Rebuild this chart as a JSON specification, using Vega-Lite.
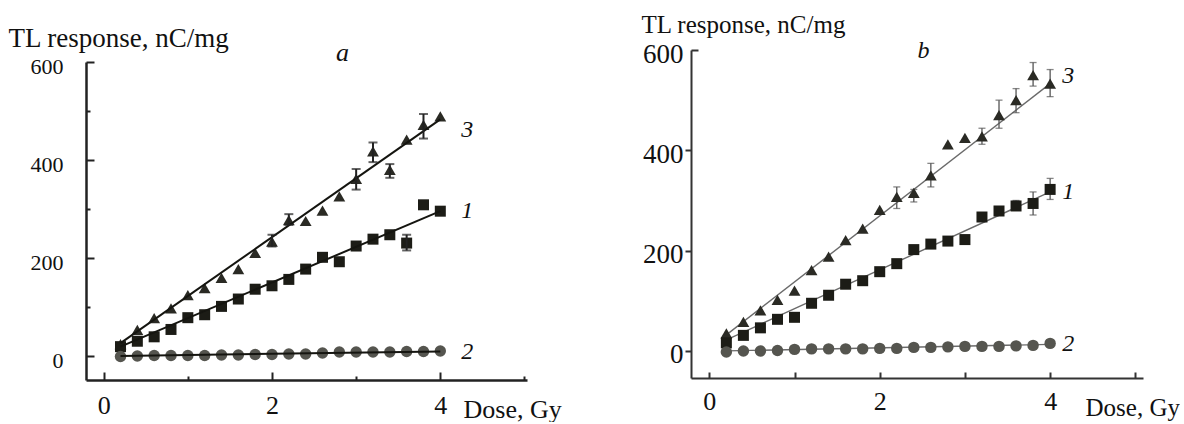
{
  "$schema": "https://vega.github.io/schema/vega-lite/v6.json",
  "background": "white",
  "padding": {"left": 8, "top": 12, "right": 0, "bottom": 0},
  "bounds": "flush",
  "spacing": 164,
  "config": {"view": {"stroke": null}, "axis": {"grid": false}},
  "datasets": {
    "pa": [
      {"s":"3","x":0.2,"y":25},{"s":"3","x":0.4,"y":54},{"s":"3","x":0.6,"y":78},{"s":"3","x":0.8,"y":98},{"s":"3","x":1.0,"y":125},
      {"s":"3","x":1.2,"y":139},{"s":"3","x":1.4,"y":160},{"s":"3","x":1.6,"y":178},{"s":"3","x":1.8,"y":211},{"s":"3","x":2.0,"y":234},
      {"s":"3","x":2.2,"y":278},{"s":"3","x":2.4,"y":276},{"s":"3","x":2.6,"y":297},{"s":"3","x":2.8,"y":326},{"s":"3","x":3.0,"y":362},
      {"s":"3","x":3.2,"y":418},{"s":"3","x":3.4,"y":380},{"s":"3","x":3.6,"y":442},{"s":"3","x":3.8,"y":472},{"s":"3","x":4.0,"y":489},
      {"s":"1","x":0.2,"y":20},{"s":"1","x":0.4,"y":31},{"s":"1","x":0.6,"y":40},{"s":"1","x":0.8,"y":55},{"s":"1","x":1.0,"y":79},
      {"s":"1","x":1.2,"y":85},{"s":"1","x":1.4,"y":102},{"s":"1","x":1.6,"y":117},{"s":"1","x":1.8,"y":137},{"s":"1","x":2.0,"y":144},
      {"s":"1","x":2.2,"y":157},{"s":"1","x":2.4,"y":178},{"s":"1","x":2.6,"y":202},{"s":"1","x":2.8,"y":193},{"s":"1","x":3.0,"y":225},
      {"s":"1","x":3.2,"y":239},{"s":"1","x":3.4,"y":248},{"s":"1","x":3.6,"y":231},{"s":"1","x":3.8,"y":309},{"s":"1","x":4.0,"y":296},
      {"s":"2","x":0.2,"y":0},{"s":"2","x":0.4,"y":1},{"s":"2","x":0.6,"y":2},{"s":"2","x":0.8,"y":2},{"s":"2","x":1.0,"y":2},
      {"s":"2","x":1.2,"y":2},{"s":"2","x":1.4,"y":3},{"s":"2","x":1.6,"y":3},{"s":"2","x":1.8,"y":4},{"s":"2","x":2.0,"y":4},
      {"s":"2","x":2.2,"y":5},{"s":"2","x":2.4,"y":5},{"s":"2","x":2.6,"y":7},{"s":"2","x":2.8,"y":9},{"s":"2","x":3.0,"y":9},
      {"s":"2","x":3.2,"y":9},{"s":"2","x":3.4,"y":9},{"s":"2","x":3.6,"y":10},{"s":"2","x":3.8,"y":10},{"s":"2","x":4.0,"y":11}
    ],
    "la": [
      {"s":"3","x":0.2,"y":27},{"s":"3","x":4.0,"y":483},
      {"s":"1","x":0.2,"y":20},{"s":"1","x":4.0,"y":296},
      {"s":"2","x":0.2,"y":1},{"s":"2","x":4.0,"y":10}
    ],
    "ea": [
      {"s":"3","x":2.0,"lo":224,"hi":248},
      {"s":"3","x":2.2,"lo":268,"hi":290},
      {"s":"3","x":3.0,"lo":340,"hi":382},
      {"s":"3","x":3.2,"lo":396,"hi":436},
      {"s":"3","x":3.4,"lo":364,"hi":392},
      {"s":"3","x":3.8,"lo":444,"hi":494},
      {"s":"1","x":3.6,"lo":216,"hi":248}
    ],
    "pb": [
      {"s":"3","x":0.2,"y":35},{"s":"3","x":0.4,"y":58},{"s":"3","x":0.6,"y":81},{"s":"3","x":0.8,"y":102},{"s":"3","x":1.0,"y":120},
      {"s":"3","x":1.2,"y":161},{"s":"3","x":1.4,"y":188},{"s":"3","x":1.6,"y":221},{"s":"3","x":1.8,"y":244},{"s":"3","x":2.0,"y":281},
      {"s":"3","x":2.2,"y":307},{"s":"3","x":2.4,"y":315},{"s":"3","x":2.6,"y":350},{"s":"3","x":2.8,"y":412},{"s":"3","x":3.0,"y":425},
      {"s":"3","x":3.2,"y":428},{"s":"3","x":3.4,"y":470},{"s":"3","x":3.6,"y":500},{"s":"3","x":3.8,"y":550},{"s":"3","x":4.0,"y":533},
      {"s":"1","x":0.2,"y":16},{"s":"1","x":0.4,"y":31},{"s":"1","x":0.6,"y":46},{"s":"1","x":0.8,"y":63},{"s":"1","x":1.0,"y":67},
      {"s":"1","x":1.2,"y":95},{"s":"1","x":1.4,"y":111},{"s":"1","x":1.6,"y":133},{"s":"1","x":1.8,"y":140},{"s":"1","x":2.0,"y":158},
      {"s":"1","x":2.2,"y":174},{"s":"1","x":2.4,"y":202},{"s":"1","x":2.6,"y":213},{"s":"1","x":2.8,"y":219},{"s":"1","x":3.0,"y":222},
      {"s":"1","x":3.2,"y":267},{"s":"1","x":3.4,"y":279},{"s":"1","x":3.6,"y":289},{"s":"1","x":3.8,"y":294},{"s":"1","x":4.0,"y":322},
      {"s":"2","x":0.2,"y":-2},{"s":"2","x":0.4,"y":0},{"s":"2","x":0.6,"y":0},{"s":"2","x":0.8,"y":1},{"s":"2","x":1.0,"y":3},
      {"s":"2","x":1.2,"y":4},{"s":"2","x":1.4,"y":4},{"s":"2","x":1.6,"y":4},{"s":"2","x":1.8,"y":4},{"s":"2","x":2.0,"y":5},
      {"s":"2","x":2.2,"y":5},{"s":"2","x":2.4,"y":7},{"s":"2","x":2.6,"y":7},{"s":"2","x":2.8,"y":8},{"s":"2","x":3.0,"y":9},
      {"s":"2","x":3.2,"y":9},{"s":"2","x":3.4,"y":9},{"s":"2","x":3.6,"y":10},{"s":"2","x":3.8,"y":11},{"s":"2","x":4.0,"y":15}
    ],
    "lb": [
      {"s":"3","x":0.2,"y":32},{"s":"3","x":4.0,"y":533},
      {"s":"1","x":0.2,"y":22},{"s":"1","x":4.0,"y":317},
      {"s":"2","x":0.2,"y":0},{"s":"2","x":4.0,"y":13}
    ],
    "eb": [
      {"s":"3","x":2.2,"lo":284,"hi":327},
      {"s":"3","x":2.4,"lo":297,"hi":322},
      {"s":"3","x":2.6,"lo":327,"hi":374},
      {"s":"3","x":3.2,"lo":412,"hi":444},
      {"s":"3","x":3.4,"lo":444,"hi":500},
      {"s":"3","x":3.6,"lo":475,"hi":523},
      {"s":"3","x":3.8,"lo":528,"hi":575},
      {"s":"3","x":4.0,"lo":507,"hi":561},
      {"s":"1","x":2.0,"lo":152,"hi":166},
      {"s":"1","x":2.8,"lo":214,"hi":226},
      {"s":"1","x":3.6,"lo":281,"hi":300},
      {"s":"1","x":3.8,"lo":271,"hi":317},
      {"s":"1","x":4.0,"lo":302,"hi":344}
    ]
  },
  "hconcat": [
    {
      "width": 441,
      "height": 330,
      "resolve": {"axis": {"x": "independent"}},
      "layer": [
        {
          "encoding": {
            "x": {"field": "x", "type": "quantitative",
              "scale": {"domain": [-0.21, 5.03], "nice": false, "zero": false},
              "axis": {"orient": "bottom", "title": "Dose, Gy", "values": [0,1,2,3,4,5],
                "labelExpr": "datum.value % 2 === 0 && datum.value < 5 ? datum.label : ''",
                "tickSize": {"condition": {"test": "datum.value % 2 === 0 && datum.value < 5", "value": -8}, "value": -4},
                "tickWidth": 2, "tickColor": "#222", "domainColor": "#222", "domainWidth": 2.5,
                "labelPadding": 20, "labelFont": "Liberation Serif", "labelFontSize": 26, "labelColor": "#111",
                "labelFlush": false, "labelOverlap": false,
                "titleFont": "Liberation Serif", "titleFontSize": 26, "titleFontWeight": "normal", "titleColor": "#111",
                "titleX": 377, "titleY": 37, "titleAlign": "left", "titleBaseline": "alphabetic"}},
            "y": {"field": "y", "type": "quantitative",
              "scale": {"domain": [-48, 600], "range": [330, 12], "nice": false, "zero": false},
              "axis": {"title": "TL response, nC/mg", "values": [0,100,200,300,400,500,600],
                "labelExpr": "datum.value % 200 === 0 ? datum.label : ''",
                "tickSize": {"condition": {"test": "datum.value % 200 === 0", "value": -8}, "value": -4},
                "tickWidth": 2, "tickColor": "#222", "domainColor": "#222", "domainWidth": 2.5,
                "labelPadding": 31, "labelFont": "Liberation Serif", "labelFontSize": 22, "labelColor": "#111", "labelOffset": 4,
                "labelFlush": false, "labelOverlap": false,
                "titleFont": "Liberation Serif", "titleFontSize": 27, "titleFontWeight": "normal", "titleColor": "#111",
                "titleAngle": 0, "titleX": -78, "titleY": -4, "titleAlign": "left", "titleBaseline": "alphabetic"}}
          },
          "layer": [
            {"data": {"name": "pa"},
             "mark": {"type": "point", "filled": true, "opacity": 1, "strokeWidth": 0},
             "encoding": {
               "shape": {"field": "s", "type": "nominal", "legend": null, "scale": {"domain": ["1","2","3"], "range": ["square","circle","triangle-up"]}},
               "color": {"field": "s", "type": "nominal", "legend": null, "scale": {"domain": ["1","2","3"], "range": ["#1c1c16","#55554f","#2a2a24"]}},
               "size": {"field": "s", "type": "nominal", "legend": null, "scale": {"domain": ["1","2","3"], "range": [121, 140, 150]}}
             }},
            {"data": {"name": "la"},
             "mark": {"type": "line", "color": "#151510", "strokeWidth": 2},
             "encoding": {"detail": {"field": "s", "type": "nominal"}}},
            {"data": {"name": "ea"},
             "mark": {"type": "errorbar", "ticks": true, "color": "#222", "thickness": 2, "size": 9},
             "encoding": {"y": {"field": "lo", "type": "quantitative"}, "y2": {"field": "hi"}}},
            {"data": {"name": "la"},
             "transform": [{"filter": "datum.x === 4 && datum.s === '3'"}],
             "mark": {"type": "text", "dx": 27, "dy": 11, "align": "center", "baseline": "middle", "font": "Liberation Serif", "fontStyle": "italic", "fontSize": 24, "color": "#111"},
             "encoding": {"text": {"field": "s", "type": "nominal"}}}
          ]
        },
        {"data": {"name": "la"},
         "transform": [{"filter": "datum.x === 4 && datum.s !== '3'"}],
         "mark": {"type": "text", "dx": 27, "align": "center", "baseline": "middle", "font": "Liberation Serif", "fontStyle": "italic", "fontSize": 24, "color": "#111"},
         "encoding": {
           "x": {"field": "x", "type": "quantitative",
             "axis": {"orient": "top", "title": "a", "domain": false, "ticks": false, "labels": false,
               "titleFont": "Liberation Serif", "titleFontStyle": "italic", "titleFontSize": 26, "titleFontWeight": "normal", "titleColor": "#111",
               "titleX": 256, "titleY": 10, "titleAlign": "center", "titleBaseline": "alphabetic"}},
           "y": {"field": "y", "type": "quantitative"},
           "text": {"field": "s", "type": "nominal"}}}
      ]
    },
    {
      "width": 452,
      "height": 328,
      "resolve": {"axis": {"x": "independent"}},
      "layer": [
        {
          "encoding": {
            "x": {"field": "x", "type": "quantitative",
              "scale": {"domain": [-0.215, 5.09], "nice": false, "zero": false},
              "axis": {"orient": "bottom", "title": "Dose, Gy", "values": [0,1,2,3,4,5],
                "labelExpr": "datum.value % 2 === 0 && datum.value < 5 ? datum.label : ''",
                "tickSize": -6,
                "tickWidth": 2, "tickColor": "#333", "domainColor": "#333", "domainWidth": 2,
                "labelPadding": 16, "labelFont": "Liberation Serif", "labelFontSize": 26, "labelColor": "#111",
                "labelFlush": false, "labelOverlap": false,
                "titleFont": "Liberation Serif", "titleFontSize": 25, "titleFontWeight": "normal", "titleColor": "#111",
                "titleX": 394, "titleY": 37, "titleAlign": "left", "titleBaseline": "alphabetic"}},
            "y": {"field": "y", "type": "quantitative",
              "scale": {"domain": [-54, 600], "nice": false, "zero": false},
              "axis": {"title": "TL response, nC/mg", "values": [0,200,400,600],
                "tickSize": {"condition": {"test": "datum.value === 600", "value": -7}, "value": 6},
                "labelPadding": {"condition": {"test": "datum.value === 600", "value": 15}, "value": 2},
                "tickWidth": 2, "tickColor": "#333", "domainColor": "#333", "domainWidth": 2,
                "labelFont": "Liberation Serif", "labelFontSize": 27, "labelColor": "#111", "labelOffset": 4,
                "labelFlush": false, "labelOverlap": false,
                "titleFont": "Liberation Serif", "titleFontSize": 25, "titleFontWeight": "normal", "titleColor": "#111",
                "titleAngle": 0, "titleX": -50, "titleY": -18, "titleAlign": "left", "titleBaseline": "alphabetic"}}
          },
          "layer": [
            {"data": {"name": "lb"},
             "mark": {"type": "line", "color": "#6a6a6a", "strokeWidth": 1.4},
             "encoding": {"detail": {"field": "s", "type": "nominal"}}},
            {"data": {"name": "eb"},
             "mark": {"type": "errorbar", "ticks": true, "color": "#555", "thickness": 1.3, "size": 7},
             "encoding": {"y": {"field": "lo", "type": "quantitative"}, "y2": {"field": "hi"}}},
            {"data": {"name": "pb"},
             "mark": {"type": "point", "filled": true, "opacity": 1, "strokeWidth": 0},
             "encoding": {
               "shape": {"field": "s", "type": "nominal", "legend": null, "scale": {"domain": ["1","2","3"], "range": ["square","circle","triangle-up"]}},
               "color": {"field": "s", "type": "nominal", "legend": null, "scale": {"domain": ["1","2","3"], "range": ["#1a1a1a","#4a4a4a","#222222"]}},
               "size": {"field": "s", "type": "nominal", "legend": null, "scale": {"domain": ["1","2","3"], "range": [50, 30, 60]}}
             }},
            {"data": {"name": "lb"},
             "transform": [{"filter": "datum.x === 4 && datum.s === '3'"}],
             "mark": {"type": "text", "dx": 18, "dy": -8, "align": "center", "baseline": "middle", "font": "Liberation Serif", "fontStyle": "italic", "fontSize": 24, "color": "#111"},
             "encoding": {"text": {"field": "s", "type": "nominal"}}}
          ]
        },
        {"data": {"name": "lb"},
         "transform": [{"filter": "datum.x === 4 && datum.s !== '3'"}],
         "mark": {"type": "text", "dx": 18, "align": "center", "baseline": "middle", "font": "Liberation Serif", "fontStyle": "italic", "fontSize": 24, "color": "#111"},
         "encoding": {
           "x": {"field": "x", "type": "quantitative",
             "axis": {"orient": "top", "title": "b", "domain": false, "ticks": false, "labels": false,
               "titleFont": "Liberation Serif", "titleFontStyle": "italic", "titleFontSize": 24, "titleFontWeight": "normal", "titleColor": "#111",
               "titleX": 232, "titleY": 7, "titleAlign": "center", "titleBaseline": "alphabetic"}},
           "y": {"field": "y", "type": "quantitative"},
           "text": {"field": "s", "type": "nominal"}}}
      ]
    }
  ]
}
